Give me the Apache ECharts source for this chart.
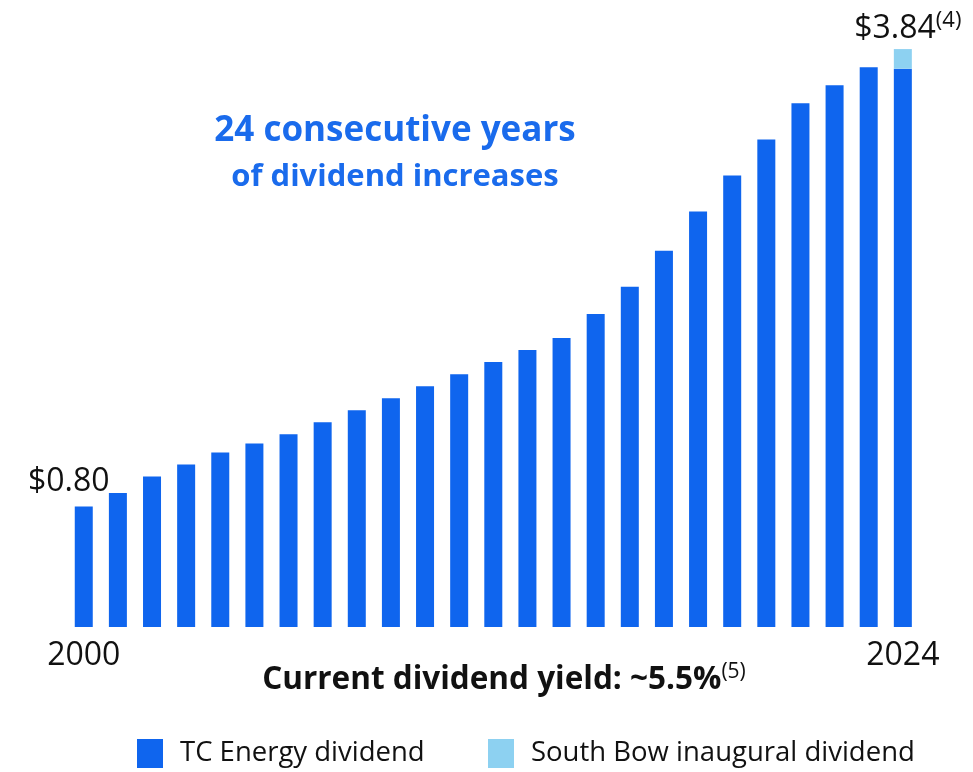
<!DOCTYPE html>
<html>
<head>
<meta charset="utf-8">
<style>
  html, body { margin: 0; padding: 0; background: #ffffff; }
  #chart { width: 973px; height: 772px; }
</style>
<script src="https://cdn.jsdelivr.net/npm/echarts@6/dist/echarts.min.js"></script>
</head>
<body>
<div id="chart"></div>
<script>
// Annual dividend per share, 2000–2024
const years = ['2000','2001','2002','2003','2004','2005','2006','2007','2008','2009','2010','2011','2012',
               '2013','2014','2015','2016','2017','2018','2019','2020','2021','2022','2023','2024'];
const tcDividend = [0.80, 0.89, 1.00, 1.08, 1.16, 1.22, 1.28, 1.36, 1.44, 1.52, 1.60, 1.68, 1.76,
                    1.84, 1.92, 2.08, 2.26, 2.50, 2.76, 3.00, 3.24, 3.48, 3.60, 3.72, 3.71];
const southBowDividend = [null, null, null, null, null, null, null, null, null, null, null, null, null,
                          null, null, null, null, null, null, null, null, null, null, null, 0.13];
const seriesNames = ['TC Energy dividend', 'South Bow inaugural dividend'];
const shownYears = ['2000', '2024'];

const BLUE = '#0F65EE';
const LIGHT = '#8DD1F1';
const TEXT_BLUE = '#1A6BEC';
const FONT = 'Open Sans';

const chart = echarts.init(document.getElementById('chart'), null, { renderer: 'canvas' });

const lastIdx = years.length - 1;
const total2024 = tcDividend[lastIdx] + southBowDividend[lastIdx];

// first bar carries its value label, offset to the upper left
const tcData = tcDividend.map((v, i) => {
  if (i === 0) {
    return {
      value: v,
      label: {
        show: true, position: 'top', offset: [-15, -4],
        formatter: () => '$' + v.toFixed(2),
        fontFamily: FONT, fontSize: 32, color: '#111'
      }
    };
  }
  return v;
});

// the stacked 2024 bar is labelled with its total
const sbData = southBowDividend.map((v, i) => {
  if (i === lastIdx) {
    return {
      value: v,
      label: {
        show: true, position: 'top', offset: [5, 4],
        formatter: () => '{a|$' + total2024.toFixed(2) + '}{b|(4)}',
        rich: {
          a: { fontFamily: FONT, fontSize: 32, color: '#111', lineHeight: 38 },
          b: { fontFamily: FONT, fontSize: 22, color: '#111', verticalAlign: 'top', lineHeight: 38, padding: [0, 0, 12, 0] }
        }
      }
    };
  }
  return v;
});

const legendCommon = {
  orient: 'horizontal',
  icon: 'rect',
  itemWidth: 26,
  itemHeight: 29,
  top: 739,
  padding: 0,
  textStyle: { fontFamily: FONT, fontSize: 27.5, color: '#111', padding: [0, 0, 0, 12] }
};

chart.setOption({
  backgroundColor: '#ffffff',
  animation: false,
  grid: { left: 66.7, right: 53.1, top: 25, bottom: 145, containLabel: false },
  legend: [
    Object.assign({}, legendCommon, { left: 137, data: [seriesNames[0]] }),
    Object.assign({}, legendCommon, { left: 488, data: [seriesNames[1]] })
  ],
  xAxis: {
    type: 'category',
    data: years,
    axisLine: { show: false },
    axisTick: { show: false },
    axisLabel: {
      interval: 0,
      margin: 13,
      fontFamily: FONT, fontSize: 32, color: '#111',
      formatter: (val) => shownYears.indexOf(val) >= 0 ? val : ''
    }
  },
  yAxis: {
    type: 'value',
    min: 0, max: 4,
    show: false,
    splitLine: { show: false }
  },
  series: [
    {
      name: seriesNames[0], type: 'bar', stack: 'div',
      data: tcData, barWidth: 18,
      itemStyle: { color: BLUE }
    },
    {
      name: seriesNames[1], type: 'bar', stack: 'div',
      data: sbData, barWidth: 18,
      itemStyle: { color: LIGHT }
    }
  ],
  graphic: [
    {
      type: 'text',
      style: {
        text: '24 consecutive years', fontFamily: FONT, fontWeight: 'bold',
        fontSize: 35, fill: TEXT_BLUE, textAlign: 'center', textVerticalAlign: 'middle'
      },
      position: [395, 131]
    },
    {
      type: 'text',
      style: {
        text: 'of dividend increases', fontFamily: FONT, fontWeight: 'bold',
        fontSize: 31, fill: TEXT_BLUE, textAlign: 'center', textVerticalAlign: 'middle'
      },
      position: [395, 177]
    },
    {
      type: 'text',
      style: {
        text: '{a|Current dividend yield: ~5.5%}{b|(5)}',
        rich: {
          a: { fontFamily: FONT, fontWeight: 'bold', fontSize: 31.5, fill: '#111', lineHeight: 36 },
          b: { fontFamily: FONT, fontSize: 21, fill: '#111', verticalAlign: 'top', lineHeight: 36, padding: [0, 0, 12, 0] }
        },
        textAlign: 'center', textVerticalAlign: 'middle'
      },
      position: [504, 680]
    }
  ]
});
</script>
</body>
</html>
